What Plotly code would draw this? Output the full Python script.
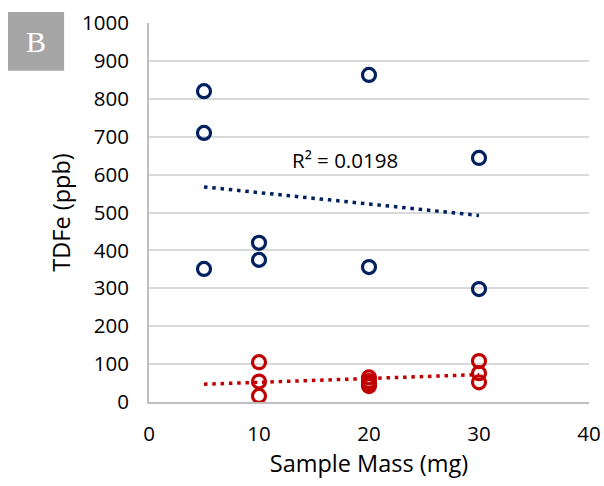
import numpy as np
import plotly.graph_objects as go

# Data
blue_x = [5, 5, 5, 10, 10, 20, 20, 30, 30]
blue_y = [820, 710, 351, 420, 375, 863, 356, 644, 298]
red_x = [10, 10, 10, 20, 20, 20, 20, 30, 30, 30]
red_y = [105, 54, 16, 65, 55, 48, 42, 108, 76, 52]
trend_x = [5, 30]
x_ticks = [0, 10, 20, 30, 40]
y_ticks = [0, 100, 200, 300, 400, 500, 600, 700, 800, 900, 1000]

BLUE = "#002060"
RED = "#C00000"
FONT = "Open Sans"

def fit(x, y, xs):
    m, b = np.polyfit(x, y, 1)
    return [m * v + b for v in xs]

fig = go.Figure()
fig.add_trace(go.Scatter(x=trend_x, y=fit(blue_x, blue_y, trend_x), mode="lines",
                         line=dict(color=BLUE, width=3.5, dash="3.5px,4.8px"), showlegend=False))
fig.add_trace(go.Scatter(x=trend_x, y=fit(red_x, red_y, trend_x), mode="lines",
                         line=dict(color=RED, width=3.5, dash="3.5px,4.8px"), showlegend=False))
fig.add_trace(go.Scatter(x=blue_x, y=blue_y, mode="markers",
                         marker=dict(symbol="circle-open", size=13, color=BLUE, line=dict(width=3.2, color=BLUE)),
                         showlegend=False))
fig.add_trace(go.Scatter(x=red_x, y=red_y, mode="markers",
                         marker=dict(symbol="circle-open", size=13, color=RED, line=dict(width=3.2, color=RED)),
                         showlegend=False))

fig.add_annotation(x=17.8, y=639, text="R² = 0.0198", showarrow=False,
                   font=dict(size=20.5, color="#000000", family=FONT))

# Panel label
fig.add_shape(type="rect", xref="paper", yref="paper", x0=-0.3205, x1=-0.193, y0=0.874, y1=1.029,
              fillcolor="#A6A6A6", line=dict(width=0))
fig.add_annotation(xref="paper", yref="paper", x=-0.257, y=0.952, xanchor="center", yanchor="middle",
                   text="B", showarrow=False,
                   font=dict(size=30, color="white", family="Liberation Serif"))

fig.update_layout(
    width=604, height=486,
    margin=dict(l=149, r=15, t=23, b=84),
    paper_bgcolor="white", plot_bgcolor="white",
    font=dict(family=FONT, color="#000000"),
)
fig.update_xaxes(range=[0, 40], tickvals=x_ticks, showgrid=False, zeroline=False, automargin=False,
                 showline=True, linecolor="#BFBFBF", linewidth=2, ticks="",
                 ticklabelstandoff=12,
                 tickfont=dict(size=20.5), title=dict(text="Sample Mass (mg)", font=dict(size=23.5), standoff=9))
fig.update_yaxes(range=[0, 1000], tickvals=y_ticks, showgrid=True, gridcolor="#D9D9D9", gridwidth=2,
                 zeroline=False, showline=True, linecolor="#BFBFBF", linewidth=2, ticks="", automargin=False,
                 ticklabelstandoff=14,
                 tickfont=dict(size=20.5), title=dict(text="TDFe (ppb)", font=dict(size=23.5), standoff=5))

fig.write_html("out.html")
